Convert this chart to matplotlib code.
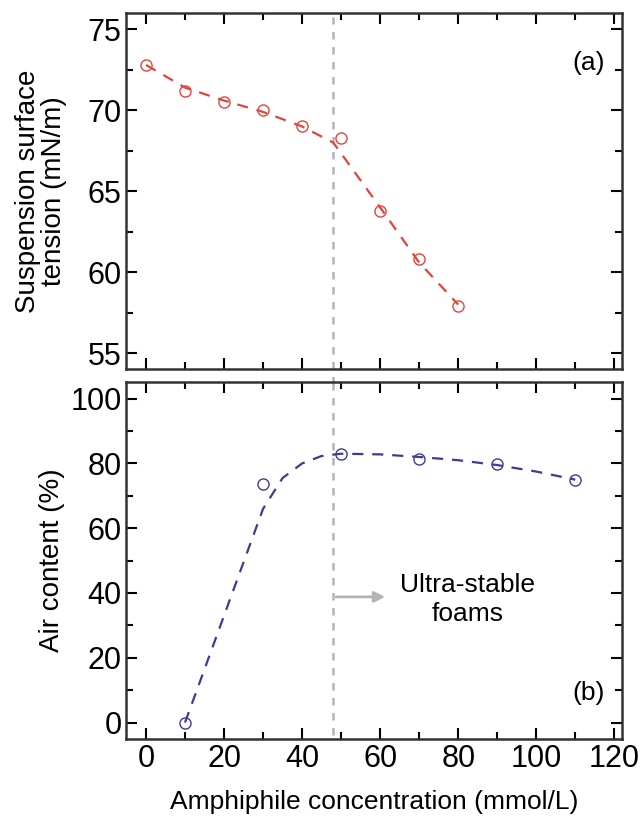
import matplotlib
matplotlib.use("Agg")
import matplotlib.pyplot as plt
from matplotlib.ticker import MultipleLocator

plt.rcParams['font.family'] = ['Liberation Sans', 'DejaVu Sans']

# --- data ---
conc_a = [0, 10, 20, 30, 40, 50, 60, 70, 80]
tension = [72.8, 71.2, 70.5, 70.0, 69.0, 68.3, 63.8, 60.8, 57.9]
fit_a_x = [0, 10, 20, 30, 40, 48, 60, 70, 80]
fit_a_y = [72.8, 71.4, 70.6, 69.9, 69.0, 68.0, 64.0, 60.6, 58.0]

conc_b = [10, 30, 50, 70, 90, 110]
air = [0, 73.5, 83.0, 81.3, 79.7, 75.0]
fit_b_x = [10, 20, 30, 35, 40, 45, 50, 60, 70, 80, 90, 100, 110]
fit_b_y = [0, 33, 66, 75.5, 80, 82.3, 83, 82.8, 82, 81, 79.5, 77.5, 75]

cmc = 48

red = "#e4433d"
blue = "#3c3c90"
gray = "#b4b4b4"

fig = plt.figure(figsize=(6.42, 8.19), dpi=100)
ax1 = fig.add_axes([0.197, 0.549, 0.772, 0.435])
ax2 = fig.add_axes([0.197, 0.098, 0.772, 0.435])

ax1.plot(fit_a_x, fit_a_y, ls=(0, (5, 4)), color=red, lw=1.6)
ax1.plot(conc_a, tension, ls="none", marker="o", ms=8, mfc="none", mec=red, mew=1.0)
ax2.plot(fit_b_x, fit_b_y, ls=(0, (5, 4)), color=blue, lw=1.6)
ax2.plot(conc_b, air, ls="none", marker="o", ms=8, mfc="none", mec=blue, mew=1.0)

# vertical line across both panels
ax1.axvline(cmc, ymin=-0.04, ymax=0.99, color=gray, ls=(0, (3, 3)), lw=1.8, clip_on=False, zorder=0)
ax2.axvline(cmc, ymin=0.01, ymax=1.0, color=gray, ls=(0, (3, 3)), lw=1.8, zorder=0)

ax2.annotate("", xy=(62, 38.8), xytext=(cmc, 38.8),
             arrowprops=dict(arrowstyle="-|>", color=gray, lw=2, mutation_scale=16))
ax2.text(82.5, 38, "Ultra-stable\nfoams", ha="center", va="center", fontsize=19,
         linespacing=1.25)

ax1.text(113.5, 72.9, "(a)", ha="center", va="center", fontsize=19)
ax2.text(113.5, 9, "(b)", ha="center", va="center", fontsize=19)

for ax in (ax1, ax2):
    ax.set_xlim(-5, 122)
    ax.xaxis.set_major_locator(MultipleLocator(20))
    ax.xaxis.set_minor_locator(MultipleLocator(10))
    ax.tick_params(which="both", direction="in", top=True, right=True, labelsize=22)
    ax.tick_params(which="major", length=8, width=1.5)
    ax.tick_params(which="minor", length=5, width=1.5)
    for s in ax.spines.values():
        s.set_linewidth(1.8)
        s.set_color("#333333")

ax1.set_ylim(54, 76)
ax1.yaxis.set_major_locator(MultipleLocator(5))
ax1.yaxis.set_minor_locator(MultipleLocator(2.5))
ax1.tick_params(labelbottom=False)
ax1.set_ylabel("Suspension surface\ntension (mN/m)", fontsize=20, linespacing=1.0)
ax1.yaxis.set_label_coords(-0.12, 0.5)

ax2.set_ylim(-5, 105)
ax2.yaxis.set_major_locator(MultipleLocator(20))
ax2.yaxis.set_minor_locator(MultipleLocator(10))
ax2.set_ylabel("Air content (%)", fontsize=20)
ax2.yaxis.set_label_coords(-0.125, 0.5)
ax2.set_xlabel("Amphiphile concentration (mmol/L)", fontsize=19, labelpad=12)

fig.savefig("out.png", dpi=100)
